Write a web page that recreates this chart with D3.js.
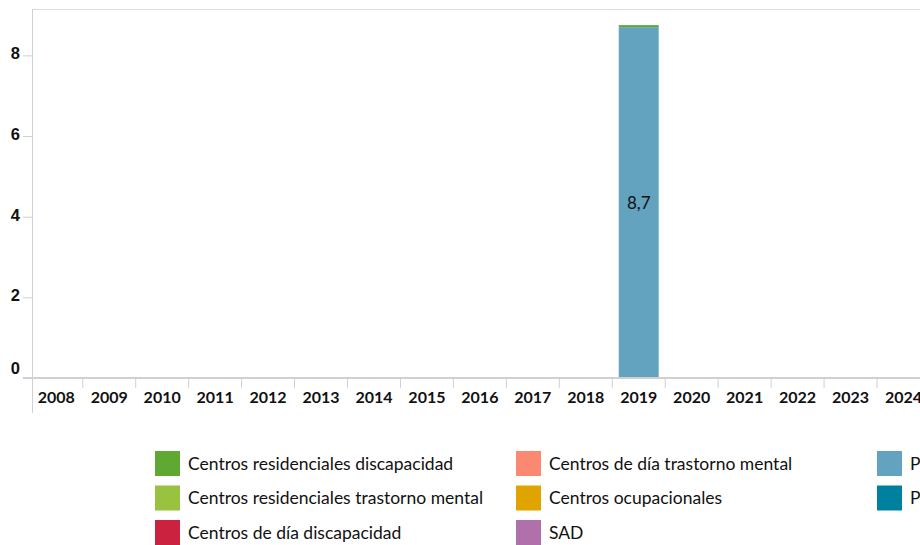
<!DOCTYPE html>
<html>
<head>
<meta charset="utf-8">
<script src="https://cdn.jsdelivr.net/npm/d3@7"></script>
<style>
  body { margin: 0; background: #fff; overflow: hidden; }
  svg { display: block; font-family: Lato, "Open Sans", sans-serif; }
</style>
</head>
<body>
<svg id="chart" width="920" height="545"></svg>
<script>
// 年 (x 軸のカテゴリ)
const years = ["2008", "2009", "2010", "2011", "2012", "2013", "2014", "2015", "2016",
  "2017", "2018", "2019", "2020", "2021", "2022", "2023", "2024"];

// 系列名と色
const seriesNames = [
  "Centros residenciales discapacidad",
  "Centros residenciales trastorno mental",
  "Centros de día discapacidad",
  "Centros de día trastorno mental",
  "Centros ocupacionales",
  "SAD",
  "Prestación económica vinculada al servicio",
  "Prestación económica cuidados en el entorno familiar"
];
const seriesColors = ["#5fa831", "#98c23f", "#cb2240", "#fb8870", "#e0a400", "#b070aa", "#63a3c0", "#00809f"];

// 系列ごとの値 (年順)
const resDiscapacidad = [0, 0, 0, 0, 0, 0, 0, 0, 0, 0, 0, 0.05, 0, 0, 0, 0, 0];
const resTrastorno    = [0, 0, 0, 0, 0, 0, 0, 0, 0, 0, 0, 0, 0, 0, 0, 0, 0];
const diaDiscapacidad = [0, 0, 0, 0, 0, 0, 0, 0, 0, 0, 0, 0, 0, 0, 0, 0, 0];
const diaTrastorno    = [0, 0, 0, 0, 0, 0, 0, 0, 0, 0, 0, 0, 0, 0, 0, 0, 0];
const ocupacionales   = [0, 0, 0, 0, 0, 0, 0, 0, 0, 0, 0, 0, 0, 0, 0, 0, 0];
const sad             = [0, 0, 0, 0, 0, 0, 0, 0, 0, 0, 0, 0, 0, 0, 0, 0, 0];
const prestacion1     = [0, 0, 0, 0, 0, 0, 0, 0, 0, 0, 0, 8.7, 0, 0, 0, 0, 0];
const prestacion2     = [0, 0, 0, 0, 0, 0, 0, 0, 0, 0, 0, 0, 0, 0, 0, 0, 0];

// y 軸の目盛り
const yTicks = [0, 2, 4, 6, 8];

const seriesValues = [resDiscapacidad, resTrastorno, diaDiscapacidad, diaTrastorno,
  ocupacionales, sad, prestacion1, prestacion2];

const svg = d3.select("#chart");
const margin = {top: 9, left: 32, bottom: 378};
const bandStart = 29.8;
const bandStep = 52.95;

// スケール
const x = d3.scaleBand()
  .domain(years)
  .range([bandStart, bandStart + bandStep * years.length])
  .paddingInner(0.245)
  .paddingOuter(0.1225);

const y = d3.scaleLinear()
  .domain([0, 9.15])
  .range([margin.bottom, margin.top]);

// 表データ
const table = years.map((yr, i) => {
  let row = {year: yr};
  seriesNames.forEach((s, j) => { row[s] = seriesValues[j][i]; });
  return row;
});

const stacked = d3.stack()
  .keys(seriesNames)
  .order(d3.stackOrderReverse)(table);

const color = d3.scaleOrdinal().domain(seriesNames).range(seriesColors);

// 枠線 (上と左)
svg.append("line")
  .attr("x1", margin.left).attr("x2", 920)
  .attr("y1", margin.top + 0.5).attr("y2", margin.top + 0.5)
  .attr("stroke", "#dcdcdc");

// y 軸
const yAxis = svg.append("g")
  .attr("transform", `translate(${margin.left},0)`)
  .call(d3.axisLeft(y).tickValues(yTicks).tickSize(9).tickPadding(3).tickFormat(d3.format("d")));
yAxis.select(".domain").remove();
yAxis.selectAll(".tick line").attr("stroke", "#d0d0d0");
yAxis.selectAll(".tick text")
  .attr("font-size", 16.5).attr("font-weight", "bold").attr("fill", "#111")
  .attr("dy", "0.2em");
yAxis.select(".tick text").attr("dy", "-0.3em");

svg.append("line")
  .attr("x1", margin.left + 0.5).attr("x2", margin.left + 0.5)
  .attr("y1", margin.top).attr("y2", 413)
  .attr("stroke", "#d0d0d0");

// バー
svg.append("g")
  .selectAll("g")
  .data(stacked)
  .join("g")
  .attr("fill", d => color(d.key))
  .selectAll("rect")
  .data(d => d)
  .join("rect")
  .attr("x", d => x(d.data.year))
  .attr("y", d => y(d[1]))
  .attr("width", x.bandwidth())
  .attr("height", d => y(d[0]) - y(d[1]));

// 値ラベル
svg.append("g")
  .selectAll("text")
  .data(stacked.flatMap(s => s.filter(d => d[1] - d[0] >= 1)))
  .join("text")
  .attr("x", d => x(d.data.year) + x.bandwidth() / 2)
  .attr("y", d => y((d[0] + d[1]) / 2))
  .attr("dy", "0.35em")
  .attr("text-anchor", "middle")
  .attr("font-size", 17)
  .attr("fill", "#111")
  .text(d => d3.format(".1f")(d[1] - d[0]).replace(".", ","));

// x 軸
const xAxis = svg.append("g")
  .attr("transform", `translate(0,${margin.bottom})`);
xAxis.append("line")
  .attr("x1", 23).attr("x2", 920)
  .attr("stroke", "#d0d0d0").attr("stroke-width", 2);
xAxis.selectAll("line.sep")
  .data(years.slice(1))
  .join("line")
  .attr("class", "sep")
  .attr("x1", d => x(d) - x.step() * x.paddingInner() / 2)
  .attr("x2", d => x(d) - x.step() * x.paddingInner() / 2)
  .attr("y1", 0).attr("y2", 10)
  .attr("stroke", "#d0d0d0");
xAxis.selectAll("text")
  .data(years)
  .join("text")
  .attr("x", d => x(d) + x.bandwidth() / 2)
  .attr("y", 25)
  .attr("text-anchor", "middle")
  .attr("font-size", 16)
  .attr("font-weight", "bold")
  .attr("fill", "#111")
  .text(d => d);

// 凡例
const legendCols = [155, 516, 877];
const legend = svg.append("g")
  .selectAll("g")
  .data(seriesNames)
  .join("g")
  .attr("transform", (d, i) => `translate(${legendCols[Math.floor(i / 3)]},${451 + (i % 3) * 34.5})`);
legend.append("rect")
  .attr("width", 25).attr("height", 25)
  .attr("fill", d => color(d));
legend.append("text")
  .attr("x", 33).attr("y", 12.5).attr("dy", "0.35em")
  .attr("font-size", 17.5)
  .attr("fill", "#111")
  .text(d => d);
</script>
</body>
</html>
